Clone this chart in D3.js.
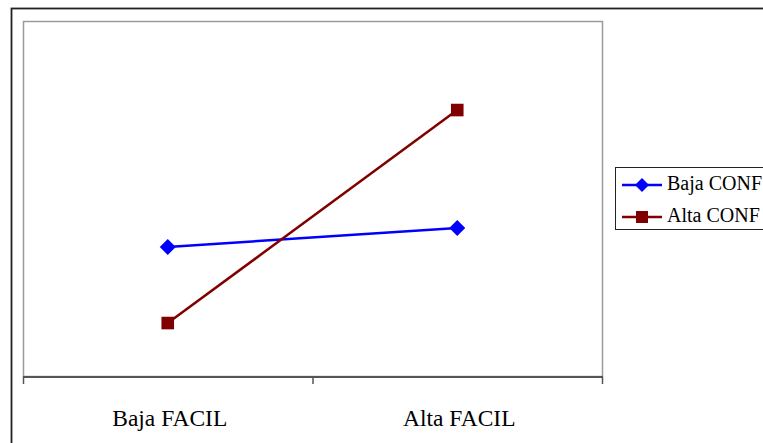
<!DOCTYPE html>
<html>
<head>
<meta charset="utf-8">
<script src="https://cdn.jsdelivr.net/npm/d3@7"></script>
<style>
  html, body { margin: 0; padding: 0; background: #fff; }
  svg { display: block; }
</style>
</head>
<body>
<div id="chart"></div>
<script>
// Category labels along the x axis
const categories = ["Baja FACIL", "Alta FACIL"];
// Series names and values (mean scores per category)
const seriesNames = ["Baja CONF", "Alta CONF"];
const bajaConf = [1.83, 2.10];
const altaConf = [0.76, 3.76];
const seriesColors = ["#0000FF", "#800000"];

const W = 763, H = 443;
const plot = { left: 23, top: 22, right: 602, bottom: 377 };

// Marker shapes: square-on-point diamond and square, r = half extent
const marker = (kind, r) => kind === 0
  ? `M0,${-r}L${r},0L0,${r}L${-r},0Z`
  : `M${-r},${-r}H${r}V${r}H${-r}Z`;

const svg = d3.select("#chart").append("svg")
  .attr("width", W).attr("height", H);

// Outer chart frame
svg.append("rect")
  .attr("x", 11.5).attr("y", 8.5)
  .attr("width", W + 20).attr("height", H + 20)
  .attr("fill", "none").attr("stroke", "#222").attr("stroke-width", 1.8);

// Plot area border
svg.append("rect")
  .attr("x", plot.left + 0.5).attr("y", plot.top - 0.5)
  .attr("width", plot.right - plot.left).attr("height", plot.bottom - plot.top)
  .attr("fill", "none").attr("stroke", "#9a9a9a").attr("stroke-width", 1.5);

const x = d3.scaleBand().domain(categories).range([plot.left, plot.right]);
const y = d3.scaleLinear().domain([0, 5]).range([plot.bottom, plot.top]);

// Category axis with ticks between categories
const xAxis = svg.append("g").attr("transform", `translate(0,${plot.bottom})`);
xAxis.append("line")
  .attr("x1", plot.left).attr("x2", plot.right + 1)
  .attr("stroke", "#555").attr("stroke-width", 2);
const tickPos = [plot.left, ...categories.map(c => x(c) + x.bandwidth())];
xAxis.selectAll("line.tick").data(tickPos).enter().append("line")
  .attr("class", "tick")
  .attr("x1", d => d + 0.5).attr("x2", d => d + 0.5)
  .attr("y1", 0).attr("y2", 7)
  .attr("stroke", "#555").attr("stroke-width", 1.5);
xAxis.selectAll("text").data(categories).enter().append("text")
  .attr("x", d => x(d) + x.bandwidth() / 2 + 2)
  .attr("y", 49)
  .attr("text-anchor", "middle")
  .attr("font-family", "'Liberation Serif', 'Times New Roman', serif")
  .attr("font-size", 23.5)
  .attr("fill", "#000")
  .text(d => d);

const series = [bajaConf, altaConf];
const line = d3.line()
  .x((d, i) => x(categories[i]) + x.bandwidth() / 2)
  .y(d => y(d));

series.forEach((vals, s) => {
  svg.append("path")
    .datum(vals)
    .attr("d", line)
    .attr("fill", "none")
    .attr("stroke", seriesColors[s])
    .attr("stroke-width", 2.5);
  svg.selectAll(`path.m${s}`).data(vals).enter().append("path")
    .attr("class", `m${s}`)
    .attr("transform", (d, i) => `translate(${x(categories[i]) + x.bandwidth() / 2},${y(d)})`)
    .attr("d", marker(s, s === 0 ? 8 : 6.3))
    .attr("fill", seriesColors[s]);
});

// Legend
const lg = svg.append("g");
lg.append("rect")
  .attr("x", 615.5).attr("y", 167.5)
  .attr("width", 200).attr("height", 62)
  .attr("fill", "#fff").attr("stroke", "#222").attr("stroke-width", 1);
seriesNames.forEach((name, s) => {
  const cy = 185 + s * 32;
  lg.append("line")
    .attr("x1", 622).attr("x2", 662)
    .attr("y1", cy).attr("y2", cy)
    .attr("stroke", seriesColors[s]).attr("stroke-width", 2.5);
  lg.append("path")
    .attr("transform", `translate(642,${cy})`)
    .attr("d", marker(s, s === 0 ? 7 : 6))
    .attr("fill", seriesColors[s]);
  lg.append("text")
    .attr("x", 667).attr("y", cy + 5)
    .attr("font-family", "'Liberation Serif', 'Times New Roman', serif")
    .attr("font-size", 20)
    .attr("fill", "#000")
    .text(name);
});
</script>
</body>
</html>
